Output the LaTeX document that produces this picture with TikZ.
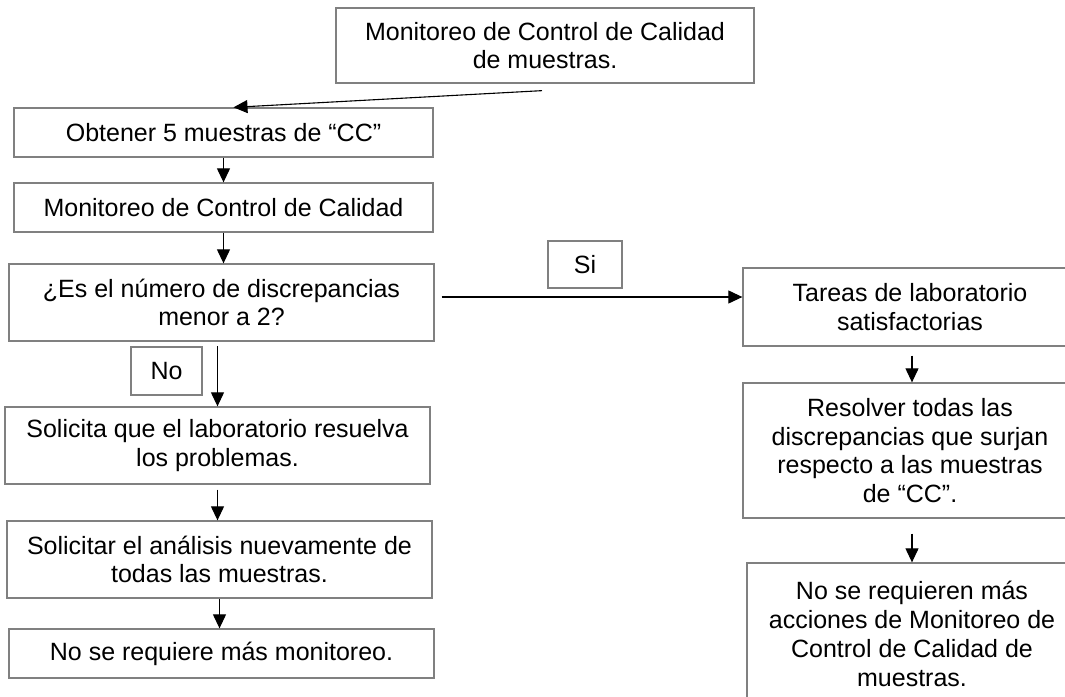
\documentclass[tikz,border=0pt]{standalone}
\usepackage{fontspec}
\setmainfont{Liberation Sans}
\usetikzlibrary{arrows.meta}

\begin{document}
\begin{tikzpicture}[x=1pt,y=-1pt,caja/.style n args={2}{draw=black!50,line width=1.3pt,rectangle,minimum width=#1pt,minimum height=#2pt,inner sep=0pt,align=center,font=\fontsize{25}{28.8}\selectfont},flecha/.style={-{Triangle[length=14pt,width=13pt]},line width=1.1pt,black}]
\useasboundingbox (0,0) rectangle (1065,696);
\node[caja={418}{75}] (inicio) at (545,45.5) {Monitoreo de Control de Calidad\\de muestras.};
\node[caja={419}{49}] (obtener) at (223.5,132.5) {Obtener 5 muestras de “CC”};
\node[caja={419}{49}] (monitoreo) at (223.5,207.5) {Monitoreo de Control de Calidad};
\node[caja={425}{77}] (pregunta) at (221.5,302.5) {¿Es el número de discrepancias\\menor a 2?};
\node[caja={71}{48}] (no) at (166.5,371) {No};
\node[caja={425}{77}] (solicita) at (217.5,445.5) {Solicita que el laboratorio resuelva\\los problemas.};
\node[caja={425}{77}] (solicitar) at (219.5,559.5) {Solicitar el análisis nuevamente de\\todas las muestras.};
\node[caja={425}{49}] (fin) at (221.5,653.5) {No se requiere más monitoreo.};
\node[caja={74}{47}] (si) at (585,264.5) {Si};
\node[caja={334}{78}] (tareas) at (910,307) {Tareas de laboratorio\\satisfactorias};
\node[caja={334}{135}] (resolver) at (910,450.5) {Resolver todas las\\discrepancias que surjan\\respecto a las muestras\\de “CC”.};
\node[caja={330}{142}] (acciones) at (912,634) {No se requieren más\\acciones de Monitoreo de\\Control de Calidad de\\muestras.};
\draw[flecha] ([xshift=-3pt,yshift=-7pt]inicio.south) -- ([xshift=10pt]obtener.north);
\foreach \a/\b in {obtener/monitoreo,monitoreo/pregunta,solicitar/fin} {
   \draw[flecha] (\a.south) -- (\a.south |- \b.north);
}
\draw[flecha] (solicita.north |- no.north) -- (solicita.north);
\draw[flecha] ([yshift=-5pt]solicita.south) -- (solicita.south |- solicitar.north);
\coordinate (entrada) at ([yshift=10pt]tareas.west);
\draw[flecha] (pregunta.east |- entrada) ++(7pt,0) -- (entrada);
\draw[flecha] ([xshift=2pt,yshift=-9pt]tareas.south) -- ([xshift=2pt]resolver.north);
\draw[flecha] ([xshift=2pt,yshift=-15pt]resolver.south) -- (acciones.north);
\end{tikzpicture}
\end{document}
